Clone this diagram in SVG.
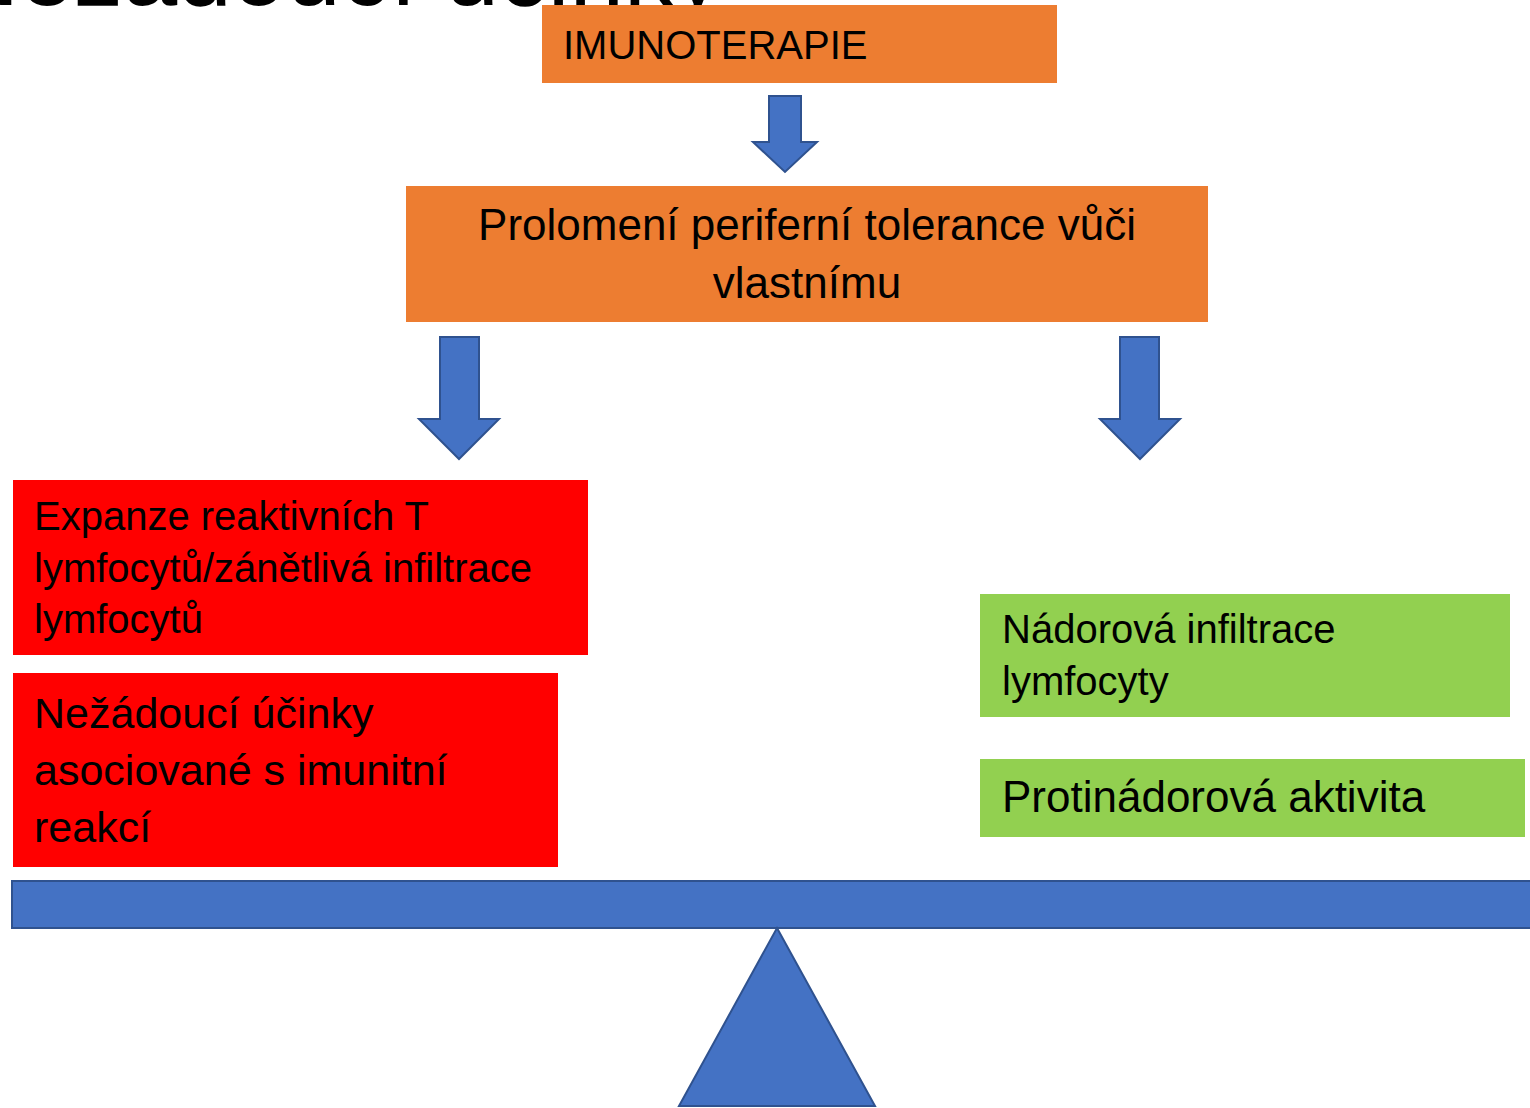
<svg xmlns="http://www.w3.org/2000/svg" width="1530" height="1108" viewBox="0 0 1530 1108">
<style>
  text { font-family: "Liberation Sans", Arial, sans-serif; fill: #000000; }
  .orange { fill: #ED7D31; }
  .red { fill: #FF0000; }
  .green { fill: #92D050; }
  .blue { fill: #4472C4; stroke: #2F528F; stroke-width: 2; }
</style>
<rect width="1530" height="1108" fill="#FFFFFF"/>
<text id="title" x="722" y="5" font-size="98" text-anchor="end">Nežádoucí účinky</text>

<g id="imunoterapie">
  <rect class="orange" x="542" y="5" width="515" height="78"/>
  <text x="563" y="59" font-size="40">IMUNOTERAPIE</text>
</g>

<g id="prolomeni">
  <rect class="orange" x="406" y="186" width="802" height="136"/>
  <text x="807" y="240" font-size="44" text-anchor="middle">Prolomení periferní tolerance vůči</text>
  <text x="807" y="298" font-size="44" text-anchor="middle">vlastnímu</text>
</g>

<g id="expanze">
  <rect class="red" x="13" y="480" width="575" height="175"/>
  <text x="34" y="530" font-size="40">Expanze reaktivních T</text>
  <text x="34" y="582" font-size="40">lymfocytů/zánětlivá infiltrace</text>
  <text x="34" y="633" font-size="40">lymfocytů</text>
</g>

<g id="nezadouci">
  <rect class="red" x="13" y="673" width="545" height="194"/>
  <text x="34" y="728" font-size="43">Nežádoucí účinky</text>
  <text x="34" y="785" font-size="43">asociované s imunitní</text>
  <text x="34" y="842" font-size="43">reakcí</text>
</g>

<g id="nadorova">
  <rect class="green" x="980" y="594" width="530" height="123"/>
  <text x="1002" y="643" font-size="40">Nádorová infiltrace</text>
  <text x="1002" y="695" font-size="40">lymfocyty</text>
</g>

<g id="protinadorova">
  <rect class="green" x="980" y="759" width="545" height="78"/>
  <text x="1002" y="812" font-size="44">Protinádorová aktivita</text>
</g>

<g id="vahy">
  <rect class="blue" x="12" y="881" width="1530" height="47"/>
  <polygon class="blue" points="777,928 875,1106 679,1106"/>
</g>

<g id="connectors">
  <polygon class="blue" points="769,96 801,96 801,142 817,142 785,172 753,142 769,142"/>
  <polygon class="blue" points="440,337 479,337 479,419 499,419 459,459 419,419 440,419"/>
  <polygon class="blue" points="1120,337 1159,337 1159,419 1180,419 1140,459 1100,419 1120,419"/>
</g>
</svg>
